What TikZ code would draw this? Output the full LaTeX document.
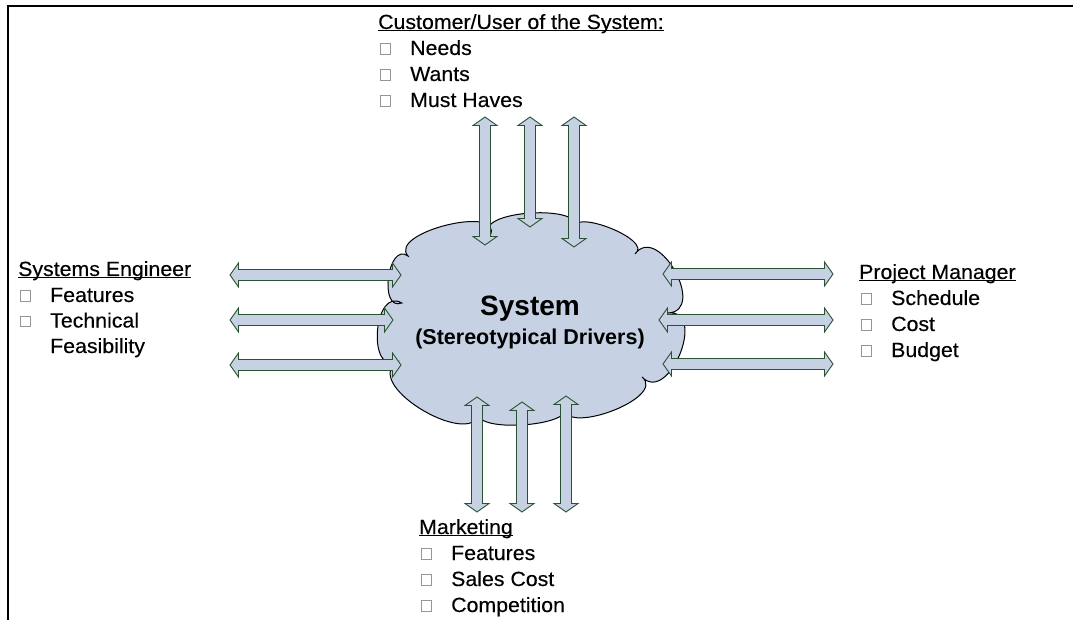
\documentclass[tikz,border=0pt]{standalone}
\usepackage{fontspec}
\setmainfont{Liberation Sans}
\newfontfamily\bodyfont[FakeStretch=1.04,FakeBold=0.3]{Liberation Sans}
\usetikzlibrary{calc}
\definecolor{cloudfill}{RGB}{198,210,228}
\definecolor{arrowline}{RGB}{40,82,50}
\definecolor{bxgray}{RGB}{150,150,150}
\newcommand\bx{\raisebox{1.3bp}{\color{bxgray}\fboxsep=0pt\fboxrule=0.8bp\fbox{\rule{0pt}{9.6bp}\rule{9.6bp}{0pt}}}}
\newcommand\itm[1]{\makebox[32bp][l]{\hspace{1.5bp}\bx}#1}
\newcommand\hd[1]{\underline{\smash{#1}}}
\newcommand\arHL{8.5bp}
\newcommand\arHW{12bp}
\newcommand\arSW{5.5bp}
\newcommand\harrow[2]{\draw[barrow] let \p1=(#1),\p2=(#2) in (\p1) -- (\x1+\arHL,\y1+\arHW) -- (\x1+\arHL,\y1+\arSW) -- (\x2-\arHL,\y1+\arSW) -- (\x2-\arHL,\y1+\arHW) -- (\p2) -- (\x2-\arHL,\y1-\arHW) -- (\x2-\arHL,\y1-\arSW) -- (\x1+\arHL,\y1-\arSW) -- (\x1+\arHL,\y1-\arHW) -- cycle;}
\newcommand\varrow[2]{\draw[barrow] let \p1=(#1),\p2=(#2) in (\p1) -- (\x1+\arHW,\y1-\arHL) -- (\x1+\arSW,\y1-\arHL) -- (\x1+\arSW,\y2+\arHL) -- (\x1+\arHW,\y2+\arHL) -- (\p2) -- (\x1-\arHW,\y2+\arHL) -- (\x1-\arSW,\y2+\arHL) -- (\x1-\arSW,\y1-\arHL) -- (\x1-\arHW,\y1-\arHL) -- cycle;}
\tikzset{
  bump/.style n args={4}{insert path={.. controls ($ {0.3333+#4}*(#1) + 1.3333*(#3) + {-0.6667-#4}*(#2) $) and ($ {0.3333+#4}*(#2) + 1.3333*(#3) + {-0.6667-#4}*(#1) $) .. (#2)}},
  barrow/.style={draw=arrowline, fill=cloudfill, line width=0.9bp, line join=miter},
  cloudstyle/.style={draw=black, fill=cloudfill, line width=1bp},
  txt/.style={font=\bodyfont\fontsize{20.5bp}{24bp}\selectfont, anchor=base west, inner sep=0pt},
  bigtxt/.style={font=\fontsize{28bp}{30bp}\selectfont\bfseries, anchor=base, inner sep=0pt},
  midtxt/.style={font=\fontsize{21.5bp}{24bp}\selectfont\bfseries, anchor=base, inner sep=0pt},
  frame/.style={draw=black, line width=1.8bp}
}
\begin{document}
\begin{tikzpicture}[x=1bp,y=-1bp]
\useasboundingbox (0,0) rectangle (1073,620);
% frame
\draw[frame] (8,620) -- (8,6) -- (1073,6);
% cloud points
\coordinate (P1) at (401.7,303);
\coordinate (P2) at (408,256);
\coordinate (P3) at (490,236);
\coordinate (P4) at (575,231);
\coordinate (P5) at (635,254);
\coordinate (P6) at (668,313);
\coordinate (P7) at (642,377);
\coordinate (P8) at (565,405);
\coordinate (P9) at (480,410);
\coordinate (P10) at (397,362);
\coordinate (M1) at (388.5,277.3);
\coordinate (M2) at (447,225);
\coordinate (M3) at (531.3,213);
\coordinate (M4) at (609,227.6);
\coordinate (M5) at (675,271);
\coordinate (M6) at (680,354);
\coordinate (M7) at (610.4,411.6);
\coordinate (M8) at (522,425);
\coordinate (M9) at (424,411);
\coordinate (M10) at (377.5,331);
\draw[cloudstyle] (P1) [bump={P1}{P2}{M1}{0.25}] [bump={P2}{P3}{M2}{0.22}] [bump={P3}{P4}{M3}{0.22}] [bump={P4}{P5}{M4}{0.25}] [bump={P5}{P6}{M5}{0.25}] [bump={P6}{P7}{M6}{0.25}] [bump={P7}{P8}{M7}{0.22}] [bump={P8}{P9}{M8}{0.18}] [bump={P9}{P10}{M9}{0.2}] [bump={P10}{P1}{M10}{0.25}] -- cycle;
% centre text
\node[bigtxt] (sys) at (530,316) {System};
\node[midtxt] (drv) at (530,344) {(Stereotypical Drivers)};
% arrow end points
\coordinate (u1a) at (485,117); \coordinate (u1b) at (485,245);
\coordinate (u2a) at (530,117); \coordinate (u2b) at (530,227);
\coordinate (u3a) at (574,117); \coordinate (u3b) at (574,247);
\coordinate (d1a) at (477,397); \coordinate (d1b) at (477,512);
\coordinate (d2a) at (522,402); \coordinate (d2b) at (522,512);
\coordinate (d3a) at (566,396); \coordinate (d3b) at (566,512);
\coordinate (l1a) at (230,275); \coordinate (l1b) at (401,275);
\coordinate (l2a) at (230,320); \coordinate (l2b) at (393,320);
\coordinate (l3a) at (230,365); \coordinate (l3b) at (401,365);
\coordinate (r1a) at (663,274); \coordinate (r1b) at (833,274);
\coordinate (r2a) at (659,320); \coordinate (r2b) at (833,320);
\coordinate (r3a) at (663,364); \coordinate (r3b) at (833,364);
\varrow{u1a}{u1b} \varrow{u2a}{u2b} \varrow{u3a}{u3b}
\varrow{d1a}{d1b} \varrow{d2a}{d2b} \varrow{d3a}{d3b}
\harrow{l1a}{l1b} \harrow{l2a}{l2b} \harrow{l3a}{l3b}
\harrow{r1a}{r1b} \harrow{r2a}{r2b} \harrow{r3a}{r3b}
% top block
\node[txt] (cust) at (378,29) {\hd{Customer/User of the System:}};
\node[txt] (cust1) at (378,55) {\itm{Needs}};
\node[txt] (cust2) at (378,81) {\itm{Wants}};
\node[txt] (cust3) at (378,107) {\itm{Must Haves}};
% left block
\node[txt] (se) at (18,276) {\hd{Systems Engineer}};
\node[txt] (se1) at (18,302) {\itm{Features}};
\node[txt] (se2) at (18,327.5) {\itm{Technical}};
\node[txt] (se3) at (50,353) {Feasibility};
% right block
\node[txt] (pm) at (859,279) {\hd{Project Manager}};
\node[txt] (pm1) at (859,305) {\itm{Schedule}};
\node[txt] (pm2) at (859,331) {\itm{Cost}};
\node[txt] (pm3) at (859,357) {\itm{Budget}};
% bottom block
\node[txt] (mk) at (419,534) {\hd{Marketing}};
\node[txt] (mk1) at (419,560) {\itm{Features}};
\node[txt] (mk2) at (419,586) {\itm{Sales Cost}};
\node[txt] (mk3) at (419,612) {\itm{Competition}};
\end{tikzpicture}
\end{document}
